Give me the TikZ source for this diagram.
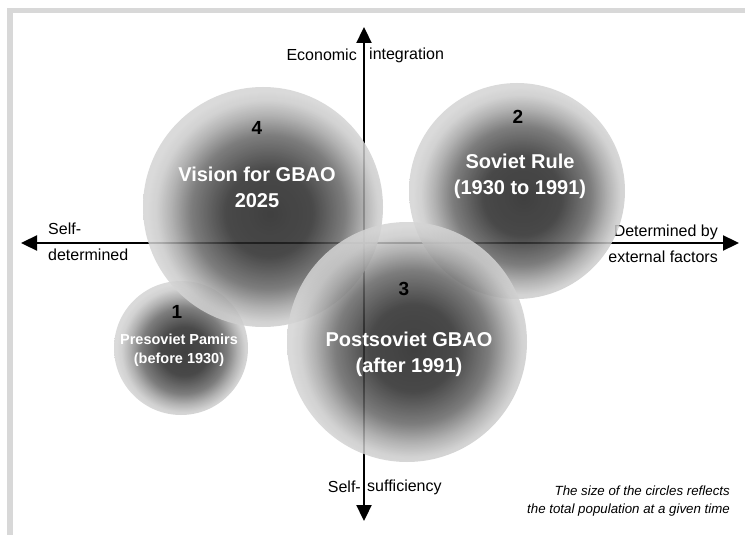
\documentclass[tikz,border=0pt]{standalone}
\usepackage{fontspec}
\setmainfont{Liberation Sans}
\usetikzlibrary{arrows.meta,positioning}
\definecolor{framegray}{RGB}{216,216,216}
\pgfdeclareradialshading{blob}{\pgfpoint{1.5bp}{-1.5bp}}{color(0bp)=(black!88); color(9bp)=(black!84); color(16bp)=(black!60); color(20bp)=(black!36); color(23bp)=(black!21); color(25bp)=(black!17); color(50bp)=(black!17)}
\tikzstyle{bubble} = [circle, inner sep=0pt, shading=blob, fill opacity=0.85]
\tikzstyle{axisline} = [line width=2.3pt, {Triangle[length=16pt,width=15pt]}-{Triangle[length=16pt,width=15pt]}]
\tikzstyle{axislabel} = [inner sep=0pt, font=\fontsize{16}{26}\selectfont]
\tikzstyle{period} = [inner sep=0pt, align=center, text=white, font=\bfseries\fontsize{20}{26}\selectfont]
\tikzstyle{smallperiod} = [period, font=\bfseries\fontsize{14.5}{19}\selectfont]
\tikzstyle{stagenum} = [inner sep=0pt, font=\bfseries\fontsize{19}{19}\selectfont]
\tikzstyle{note} = [inner sep=0pt, align=right, font=\itshape\fontsize{13.3}{18}\selectfont]
\begin{document}
\begin{tikzpicture}[x=1pt, y=-1pt]
\useasboundingbox (0,0) rectangle (745,535);
% frame
\fill[framegray] (7,8) rectangle (745,13);
\fill[framegray] (7,8) rectangle (13,535);
% axes
\coordinate (west) at (21,243);
\coordinate (east) at (739,243);
\coordinate (top) at (364,27);
\coordinate (bottom) at (364,521);
\draw[axisline] (west) -- (east);
\draw[axisline] (top) -- (bottom);
\node[axislabel, anchor=east] (econ) at (357,55) {Economic};
\node[axislabel, anchor=west] (integ) at (369,55) {integration};
\node[axislabel, anchor=east] (selfs) at (361,487) {Self-};
\node[axislabel, anchor=west] (suff) at (367,487) {sufficiency};
\node[axislabel, anchor=west, align=left] (selfdet) at (48,242) {Self-\\determined};
\node[axislabel, anchor=east, align=right] (external) at (718,244) {Determined by\\external factors};
% bubbles
\node[bubble, minimum size=134pt] (presoviet) at (181,348) {};
\node[bubble, minimum size=240pt] (vision) at (263,207) {};
\node[bubble, minimum size=216pt] (soviet) at (517,191) {};
\node[bubble, minimum size=240pt] (postsoviet) at (407,342) {};
% labels
\node[stagenum] (num4) at (257,128) {4};
\node[period] (visionlabel) at (257,187) {Vision for GBAO\\2025};
\node[stagenum] (num2) at (518,117) {2};
\node[period] (sovietlabel) at (520,176.5) {Soviet Rule\\(1930 to 1991)};
\node[stagenum] (num3) at (404,289) {3};
\node[period] (postsovietlabel) at (409,354.5) {Postsoviet GBAO\\(after 1991)};
\node[stagenum] (num1) at (177,312) {1};
\node[smallperiod] (presovietlabel) at (179,350) {Presoviet Pamirs\\(before 1930)};
\node[note, anchor=east] (sizenote) at (730,501) {The size of the circles reflects\\the total population at a given time};
\end{tikzpicture}
\end{document}
